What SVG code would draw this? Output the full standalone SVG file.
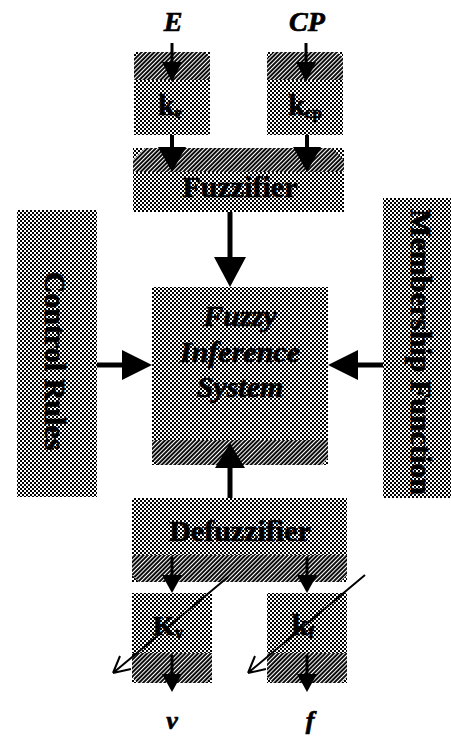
<svg xmlns="http://www.w3.org/2000/svg" width="451" height="738" viewBox="0 0 451 738">
<defs>
<pattern id="chk" width="4" height="4" patternUnits="userSpaceOnUse"><rect width="4" height="4" fill="#fff"/><rect width="2" height="2" fill="#000"/><rect x="2" y="2" width="2" height="2" fill="#000"/></pattern>
<pattern id="hatch" width="3" height="3" patternUnits="userSpaceOnUse" patternTransform="rotate(45)"><rect width="3" height="3" fill="#000"/><rect width="1.1" height="3" fill="#fff"/></pattern>
</defs>
<style>
.box{fill:url(#chk)}
.band{fill:url(#hatch)}
.lbl{font-family:"Liberation Serif","Times New Roman",serif;font-weight:bold;font-size:30px;fill:#000;stroke:#000;stroke-width:0.7px;text-anchor:middle}
.it{font-style:italic}
.ln{stroke:#000;fill:none}
.hd{fill:#000;stroke:none}
</style>
<rect width="451" height="738" fill="#fff"/>

<g id="ke">
<rect class="box" x="134" y="52" width="76" height="83"/>
<path class="band" d="M134,80 L134,58 L140,52 L204,52 L210,58 L210,80 Z"/>
<text class="lbl" style="font-size:30px" x="170" y="115">k<tspan style="font-size:17px" dy="3">e</tspan></text>
</g>
<g id="kcp">
<rect class="box" x="267" y="52" width="76" height="83"/>
<path class="band" d="M267,80 L267,58 L273,52 L337,52 L343,58 L343,80 Z"/>
<text class="lbl" style="font-size:30px" x="305" y="115">k<tspan style="font-size:17px" dy="3">cp</tspan></text>
</g>
<g id="fuzzifier">
<rect class="box" x="133" y="148" width="211" height="64"/>
<path class="band" d="M133,172 L133,160 L145,148 L332,148 L344,160 L344,172 Z"/>
<text class="lbl" x="240" y="197">Fuzzifier</text>
</g>
<g id="fis">
<rect class="box" x="152" y="287" width="176" height="178"/>
<path class="band" d="M152,440 L328,440 L328,458 L322,465 L158,465 L152,458 Z"/>
<text class="lbl it" x="240" y="326">Fuzzy</text>
<text class="lbl it" x="240" y="362">Inference</text>
<text class="lbl it" x="240" y="397">System</text>
</g>
<g id="rules">
<rect class="box" x="17" y="210" width="80" height="287"/>
<text class="lbl" transform="translate(45,361) rotate(90)">Control Rules</text>
</g>
<g id="membership">
<rect class="box" x="383" y="198" width="68" height="300"/>
<text class="lbl" transform="translate(411,352) rotate(90)">Membership Function</text>
</g>
<g id="defuzzifier">
<rect class="box" x="132" y="498" width="215" height="84"/>
<path class="band" d="M132,555 L347,555 L347,575 L340,582 L139,582 L132,575 Z"/>
<text class="lbl" x="240" y="541">Defuzzifier</text>
</g>
<g id="kv">
<rect class="box" x="132" y="593" width="80" height="90"/>
<path class="band" d="M132,653 L212,653 L212,677 L206,683 L138,683 L132,677 Z"/>
<text class="lbl" style="font-size:28px" x="168" y="635">K<tspan style="font-size:17px" dy="3">v</tspan></text>
</g>
<g id="kf">
<rect class="box" x="267" y="593" width="80" height="90"/>
<path class="band" d="M267,653 L347,653 L347,677 L341,683 L273,683 L267,677 Z"/>
<text class="lbl" style="font-size:30px" x="303" y="635">k<tspan style="font-size:17px" dy="3">f</tspan></text>
</g>
<g id="labels">
<text class="lbl it" style="font-size:28px" x="173" y="31">E</text>
<text class="lbl it" style="font-size:28px" x="307" y="31">CP</text>
<text class="lbl it" style="font-size:26px" x="172" y="729">v</text>
<text class="lbl it" style="font-size:26px" x="310" y="729">f</text>
</g>

<g id="connectors">
<line class="ln" x1="172" y1="43" x2="172" y2="66" stroke-width="3"/>
<polygon class="hd" points="162,62 182,62 172,82"/>
<line class="ln" x1="306" y1="43" x2="306" y2="66" stroke-width="3"/>
<polygon class="hd" points="296,62 316,62 306,82"/>
<line class="ln" x1="172" y1="135" x2="172" y2="150" stroke-width="4"/>
<polygon class="hd" points="158,147 186,147 172,172"/>
<line class="ln" x1="307" y1="135" x2="307" y2="150" stroke-width="4"/>
<polygon class="hd" points="293,147 321,147 307,172"/>
<line class="ln" x1="230" y1="212" x2="230" y2="260" stroke-width="5"/>
<polygon class="hd" points="214,257 246,257 230,287"/>
<line class="ln" x1="97" y1="365" x2="125" y2="365" stroke-width="5"/>
<polygon class="hd" points="122,350 122,380 152,365"/>
<line class="ln" x1="383" y1="365" x2="355" y2="365" stroke-width="5"/>
<polygon class="hd" points="358,350 358,380 328,365"/>
<line class="ln" x1="230" y1="498" x2="230" y2="465" stroke-width="5"/>
<polygon class="hd" points="215,468 245,468 230,443"/>
<line class="ln" x1="172" y1="557" x2="172" y2="578" stroke-width="3"/>
<polygon class="hd" points="162,575 182,575 172,593"/>
<line class="ln" x1="307" y1="557" x2="307" y2="578" stroke-width="3"/>
<polygon class="hd" points="297,575 317,575 307,593"/>
<line class="ln" x1="172" y1="655" x2="172" y2="677" stroke-width="3"/>
<polygon class="hd" points="162,674 182,674 172,692"/>
<line class="ln" x1="307" y1="655" x2="307" y2="677" stroke-width="3"/>
<polygon class="hd" points="297,674 317,674 307,692"/>
<path class="ln" stroke-width="2" d="M228,577 L113,673 M113,673 L120,656 M113,673 L131,669"/>
<path class="ln" stroke-width="2" d="M365,575 L248,673 M248,673 L255,656 M248,673 L266,669"/>
</g>
</svg>
